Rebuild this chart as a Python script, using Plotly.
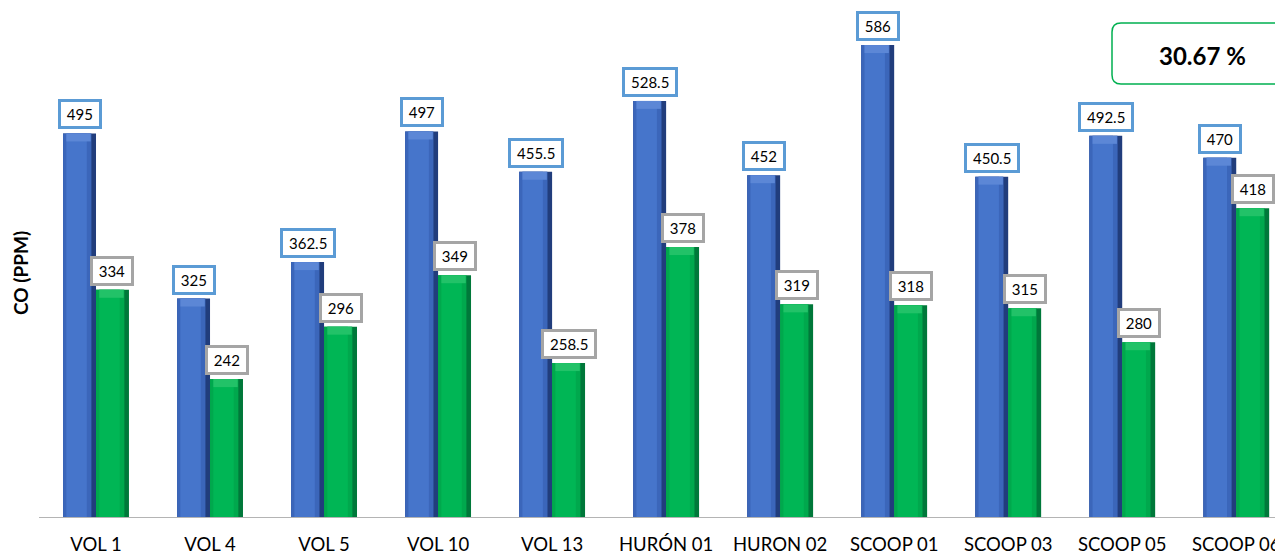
import plotly.graph_objects as go

# Equipment and measured CO concentrations (ppm)
categories = ["VOL 1", "VOL 4", "VOL 5", "VOL 10", "VOL 13", "HURÓN 01",
              "HURON 02", "SCOOP 01", "SCOOP 03", "SCOOP 05", "SCOOP 06"]
co_before = [495, 325, 362.5, 497, 455.5, 528.5, 452, 586, 450.5, 492.5, 470]
co_after = [334, 242, 296, 349, 258.5, 378, 319, 318, 315, 280, 418]
reduction_label = "30.67 %"
y_title = "CO (PPM)"

FONT = "Lato, Carlito, Calibri, sans-serif"
W, H = 1275, 555
ML, MB, MT = 39, 38, 0
Y_MIN, Y_MAX = 100, 632.4
X_RANGE = [-0.5, 10.34]
BAR_W = 0.289  # width of a single bar in category units

plot_h = H - MB - MT
px_per_unit = plot_h / (Y_MAX - Y_MIN)
cap_units = 8 / px_per_unit  # height of the bevelled top
px_per_cat = (W - ML) / (X_RANGE[1] - X_RANGE[0])

fig = go.Figure()

# Each series is drawn as stacked stripes to give the bars a bevelled look
series_styles = [
    (co_before, -BAR_W, ["#213D7C", "#3B66BA", "#4675CB"], "#5C87D6"),
    (co_after, 0.0, ["#00783A", "#00A84D", "#00B655"], "#22C268"),
]
for values, off, shades, cap_color in series_styles:
    stripes = [(0.0, 1.0), (0.0, 0.86), (0.1, 0.72)]
    for (a, b), col in zip(stripes, shades):
        fig.add_trace(go.Bar(
            x=categories, y=values, offset=off + a * BAR_W, width=(b - a) * BAR_W,
            marker=dict(color=col, line=dict(width=0)), hoverinfo="skip",
            showlegend=False))
    fig.add_trace(go.Bar(
        x=categories, y=[cap_units] * len(values),
        base=[v - cap_units for v in values],
        offset=off + 0.1 * BAR_W, width=0.74 * BAR_W,
        marker=dict(color=cap_color, line=dict(width=0)), hoverinfo="skip",
        showlegend=False))


def label_width(text):
    return sum(4 if ch == "." else 8.6 for ch in text) + 6


annotations = []
for values, shift, border in [(co_before, -BAR_W / 2, "#5B9BD5"),
                              (co_after, BAR_W / 2, "#A5A5A5")]:
    for cat, v in zip(categories, values):
        txt = f"{v:g}"
        annotations.append(dict(
            x=cat, y=v, xref="x", yref="y", text=txt, showarrow=False,
            xshift=shift * px_per_cat, yshift=4, yanchor="bottom",
            xanchor="center", width=label_width(txt), align="center",
            font=dict(family=FONT, size=15, color="#000000"),
            bgcolor="#FFFFFF", bordercolor=border, borderwidth=3, borderpad=3))


def px_to_paper_x(px):
    return (px - ML) / (W - ML)


def px_to_paper_y(py):
    return 1 - (py - MT) / plot_h


# Reduction percentage callout
annotations.append(dict(
    x=px_to_paper_x(1202), y=px_to_paper_y(55), xref="paper", yref="paper",
    xanchor="center", yanchor="middle",
    text=f"<b>{reduction_label}</b>", showarrow=False,
    font=dict(family=FONT, size=24, color="#000000")))

annotations.append(dict(
    x=px_to_paper_x(20), y=px_to_paper_y(273), xref="paper", yref="paper",
    xanchor="center", yanchor="middle",
    text=f"<b>{y_title}</b>", showarrow=False, textangle=-90,
    font=dict(family=FONT, size=19, color="#000000")))

x0, x1 = px_to_paper_x(1112), px_to_paper_x(1310)
y0, y1 = px_to_paper_y(84), px_to_paper_y(23)
rx, ry = 9 / (W - ML), 9 / plot_h
box_path = (f"M {x0 + rx},{y1} L {x1 - rx},{y1} Q {x1},{y1} {x1},{y1 - ry} "
            f"L {x1},{y0 + ry} Q {x1},{y0} {x1 - rx},{y0} L {x0 + rx},{y0} "
            f"Q {x0},{y0} {x0},{y0 + ry} L {x0},{y1 - ry} Q {x0},{y1} {x0 + rx},{y1} Z")

fig.update_layout(
    width=W, height=H,
    margin=dict(l=ML, r=0, t=MT, b=MB, pad=0, autoexpand=False),
    barmode="overlay",
    plot_bgcolor="#FFFFFF", paper_bgcolor="#FFFFFF",
    font=dict(family=FONT, color="#000000"),
    annotations=annotations,
    shapes=[dict(type="path", path=box_path, xref="paper", yref="paper",
                 line=dict(color="#00B050", width=1.5), fillcolor="#FFFFFF",
                 layer="below")],
    xaxis=dict(range=X_RANGE, showgrid=False, zeroline=False, automargin=False,
               showline=True, linecolor="#B4B4B4", linewidth=1,
               ticks="outside", ticklen=11, tickcolor="rgba(0,0,0,0)",
               tickfont=dict(family=FONT, size=18.5, color="#000000")),
    yaxis=dict(range=[Y_MIN, Y_MAX], showgrid=False, zeroline=False,
               automargin=False, showline=False, showticklabels=False, ticks=""),
)

fig.write_html("out.html")
